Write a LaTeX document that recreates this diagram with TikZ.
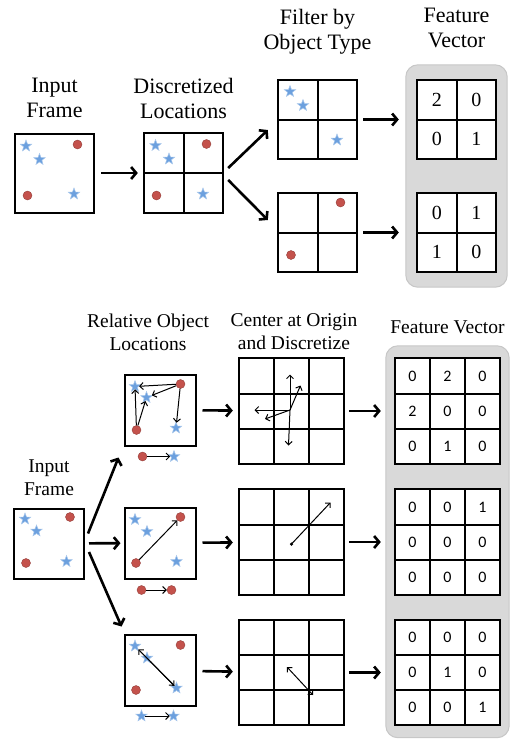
\documentclass[tikz,border=0pt]{standalone}
\usepackage{fontspec}
\setmainfont{Liberation Serif}
\newfontfamily\cellfont{Carlito}
\usetikzlibrary{shapes.geometric,arrows.meta,positioning,fit,backgrounds,matrix}

\definecolor{starblue}{RGB}{108,160,222}
\definecolor{dotred}{RGB}{196,82,76}
\definecolor{panelgray}{RGB}{217,217,217}

\begin{document}
\begin{tikzpicture}[
    x=1pt, y=-1pt,
    frame/.style={rectangle, draw, line width=2pt, inner sep=0pt},
    gridline/.style={line width=2pt, line cap=rect},
    grid2/.style={matrix of nodes, nodes in empty cells, inner sep=0pt, column sep=0pt, row sep=0pt,
        nodes={rectangle, minimum size=39.5pt, inner sep=0pt, anchor=center}},
    grid3/.style={matrix of nodes, nodes in empty cells, inner sep=0pt, column sep=0pt, row sep=0pt,
        nodes={rectangle, minimum size=35pt, inner sep=0pt, anchor=center}},
    bignum/.style={nodes={fill=white, font=\fontsize{20}{24}\selectfont}},
    smallnum/.style={nodes={fill=white, font=\cellfont\fontsize{16}{19}\selectfont}},
    bstar/.style={star, star points=5, star point ratio=2.4, fill=starblue, draw=starblue!60!white, line width=0.5pt, minimum size=12pt, inner sep=0pt},
    rdot/.style={circle, fill=dotred, draw=dotred!75!black, line width=0.4pt, minimum size=9pt, inner sep=0pt},
    flow/.style={line width=2.6pt, -{Straight Barb[length=5pt,width=12pt]}},
    vec/.style={line width=1pt, -{Straight Barb[length=3.5pt,width=7pt]}},
    vecboth/.style={line width=1pt, {Straight Barb[length=3.5pt,width=7pt]}-{Straight Barb[length=3.5pt,width=7pt]}},
    panel/.style={draw=black!22, fill=panelgray, line width=1pt, rounded corners=12pt},
    toplabel/.style={font=\fontsize{22}{25}\selectfont, align=center},
    sublabel/.style={font=\fontsize{19.5}{23}\selectfont, align=center}
]
\useasboundingbox (0,0) rectangle (510,740);

%% ---------------- Occupancy grid features ----------------

% Input frame
\node[frame, minimum size=79pt] (inA) at (54.5,173) {};
\node[bstar] (ia1) at (26,146) {};
\node[bstar] (ia2) at (39.5,159.5) {};
\node[rdot] (ia3) at (77.5,144.5) {};
\node[rdot] (ia4) at (27.5,195.5) {};
\node[bstar] (ia5) at (74,194) {};

% Discretized locations
\matrix (disc) [grid2] at (183.5,173) { & \\ & \\};
\node[bstar] (da1) at (155.5,145.5) {};
\node[bstar] (da2) at (169,159) {};
\node[rdot] (da3) at (206.5,144) {};
\node[rdot] (da4) at (156.5,195.5) {};
\node[bstar] (da5) at (203,194) {};

% Filter by object type
\matrix (filtA) [grid2] at (317.5,119.5) { & \\ & \\};
\node[bstar] (fa1) at (290,91.5) {};
\node[bstar] (fa2) at (303,105.5) {};
\node[bstar] (fa3) at (337,140) {};

\matrix (filtB) [grid2] at (317.5,232.5) { & \\ & \\};
\node[rdot] (fb1) at (340.5,202.5) {};
\node[rdot] (fb2) at (291,255) {};

% Feature vectors
\matrix (fvA) [grid2, bignum] at (456.5,119.5) {2 & 0 \\ 0 & 1 \\};
\matrix (fvB) [grid2, bignum] at (456.5,232.5) {0 & 1 \\ 1 & 0 \\};

% 2x2 cell lines
\foreach \g in {disc,filtA,filtB,fvA,fvB}
    \draw[gridline] (\g.north west) rectangle (\g.south east)
        (\g-1-1.north east) -- (\g-2-1.south east)
        (\g-1-1.south west) -- (\g-1-2.south east);

% Arrows
\draw[flow, shorten <=6pt, shorten >=6pt] (inA) -- (disc);
\draw[flow] ([xshift=5pt, yshift=5pt]disc.east) -- ([xshift=-10pt, yshift=-10.5pt]filtA.west);
\draw[flow] ([xshift=5pt, yshift=-7pt]disc.east) -- ([xshift=-10pt, yshift=12.5pt]filtB.west);
\draw[flow, shorten <=6pt, shorten >=18pt] (filtA) -- (fvA);
\draw[flow, shorten <=6pt, shorten >=18pt] (filtB) -- (fvB);

%% ---------------- Relative location features ----------------

% Input frame
\node[frame, minimum size=70pt] (inB) at (49,543.5) {};
\node[bstar] (ib1) at (25,519) {};
\node[bstar] (ib2) at (36.5,531) {};
\node[rdot] (ib3) at (70,517) {};
\node[rdot] (ib4) at (26,563) {};
\node[bstar] (ib5) at (66.5,561.5) {};

% Relative object locations: red to blue
\node[frame, minimum size=71pt] (rel1) at (160,410) {};
\node[bstar] (r1s1) at (135,386.5) {};
\node[bstar] (r1s2) at (146.5,397.5) {};
\node[rdot] (r1d1) at (180.5,384) {};
\node[rdot] (r1d2) at (136.5,430) {};
\node[bstar] (r1s3) at (176,428) {};
\draw[vec] (r1d1) -- (r1s1);
\draw[vec] (r1d1) -- (r1s2);
\draw[vec] (r1d1) -- (r1s3);
\draw[vec] (r1d2) -- (r1s1);
\draw[vec] (r1d2) -- (r1s2);
\node[rdot] (k1a) at (142.5,456.5) {};
\node[bstar] (k1b) at (174,456.5) {};
\draw[vec] (k1a) -- (k1b);

% red to red
\node[frame, minimum size=71pt] (rel2) at (160,543) {};
\node[bstar] (r2s1) at (135,519.5) {};
\node[bstar] (r2s2) at (147,531.5) {};
\node[rdot] (r2d1) at (180.5,517) {};
\node[rdot] (r2d2) at (136,563) {};
\node[bstar] (r2s3) at (176.5,561.5) {};
\draw[vec] (r2d2) -- (r2d1);
\node[rdot] (k2a) at (141.5,590) {};
\node[rdot] (k2b) at (171.5,590) {};
\draw[vec] (k2a) -- (k2b);

% blue to blue
\node[frame, minimum size=71pt] (rel3) at (160,670.5) {};
\node[bstar] (r3s1) at (135,646) {};
\node[bstar] (r3s2) at (147,658) {};
\node[rdot] (r3d1) at (180.5,645) {};
\node[rdot] (r3d2) at (136,690) {};
\node[bstar] (r3s3) at (176.5,688) {};
\draw[vec] (r3s2) -- (r3s3);
\draw[vec] (r3s3) -- (r3s1);
\node[bstar] (k3a) at (141.5,716) {};
\node[bstar] (k3b) at (173.5,716) {};
\draw[vec] (k3a) -- (k3b);

% Centered and discretized
\matrix (cgA) [grid3] at (291.5,411) { & & \\ & & \\ & & \\};
\coordinate (oA) at (290,410);
\coordinate (oA1) at (290,374.5);
\coordinate (oA2) at (300.5,385.5);
\coordinate (oA3) at (254.5,410);
\coordinate (oA4) at (265,419);
\coordinate (oA5) at (288.5,445.5);
\draw[vec] (oA) -- (oA1);
\draw[vec] (oA) -- (oA2);
\draw[vec] (oA) -- (oA3);
\draw[vec] (oA) -- (oA4);
\draw[vec] (oA) -- (oA5);

\matrix (cgB) [grid3] at (291.5,542) { & & \\ & & \\ & & \\};
\node[circle, fill, inner sep=0pt, minimum size=3.5pt] (oB) at (291.5,544) {};
\coordinate (oB1) at (330.5,502.5);
\draw[vec] (oB.center) -- (oB1);

\matrix (cgC) [grid3] at (291.5,672.5) { & & \\ & & \\ & & \\};
\coordinate (oC1) at (313,695);
\coordinate (oC2) at (287,667);
\draw[vecboth] (oC1) -- (oC2);

% Feature vectors
\matrix (fvC) [grid3, smallnum] at (447.5,411) {0 & 2 & 0 \\ 2 & 0 & 0 \\ 0 & 1 & 0 \\};
\matrix (fvD) [grid3, smallnum] at (447.5,542) {0 & 0 & 1 \\ 0 & 0 & 0 \\ 0 & 0 & 0 \\};
\matrix (fvE) [grid3, smallnum] at (447.5,672.5) {0 & 0 & 0 \\ 0 & 1 & 0 \\ 0 & 0 & 1 \\};

% 3x3 cell lines
\foreach \g in {cgA,cgB,cgC,fvC,fvD,fvE}
    \draw[gridline] (\g.north west) rectangle (\g.south east)
        (\g-1-1.north east) -- (\g-3-1.south east)
        (\g-1-2.north east) -- (\g-3-2.south east)
        (\g-1-1.south west) -- (\g-1-3.south east)
        (\g-2-1.south west) -- (\g-2-3.south east);

% Arrows
\draw[flow] ([xshift=3pt, yshift=10pt]inB.east) -- ([xshift=-5pt, yshift=-11pt]rel1.south west);
\draw[flow, shorten <=4pt, shorten >=3pt] (inB) -- (rel2);
\draw[flow] ([xshift=4pt, yshift=-8.5pt]inB.east) -- ([xshift=-2pt, yshift=7.5pt]rel3.north west);
\draw[flow, shorten <=6pt, shorten >=6pt] (rel1) -- (cgA);
\draw[flow, shorten <=6pt, shorten >=6pt] (rel2) -- (cgB);
\draw[flow, shorten <=6pt, shorten >=6pt] (rel3) -- (cgC);
\draw[flow, shorten <=5pt, shorten >=14pt] (cgA) -- (fvC);
\draw[flow, shorten <=5pt, shorten >=14pt] (cgB) -- (fvD);
\draw[flow, shorten <=5pt, shorten >=14pt] (cgC) -- (fvE);

% Gray panels behind the feature vectors
\begin{scope}[on background layer]
    \node[panel, fit=(fvA)(fvB), inner xsep=11pt, inner ysep=15pt] (panelA) {};
    \node[panel, fit=(fvC)(fvD)(fvE), inner xsep=9pt, inner ysep=12.5pt] (panelB) {};
\end{scope}

% Labels
\node[toplabel, above=11pt of inA] (inAlabel) {Input\\Frame};
\node[toplabel, above=11pt of disc] (disclabel) {Discretized\\Locations};
\node[toplabel, above=22pt of filtA] (filtlabel) {Filter by\\Object Type};
\node[toplabel, above=13pt of panelA] (fvAlabel) {Feature\\Vector};

\node[sublabel, above=8pt of inB] (inBlabel) {Input\\Frame};
\node[sublabel, above=19pt of rel1, xshift=-12pt] (rellabel) {Relative Object\\Locations};
\node[sublabel, above=5pt of cgA, xshift=2.5pt] (cglabel) {Center at Origin\\and Discretize};
\node[sublabel, above=8pt of panelB] (fvBlabel) {Feature Vector};

\end{tikzpicture}
\end{document}
